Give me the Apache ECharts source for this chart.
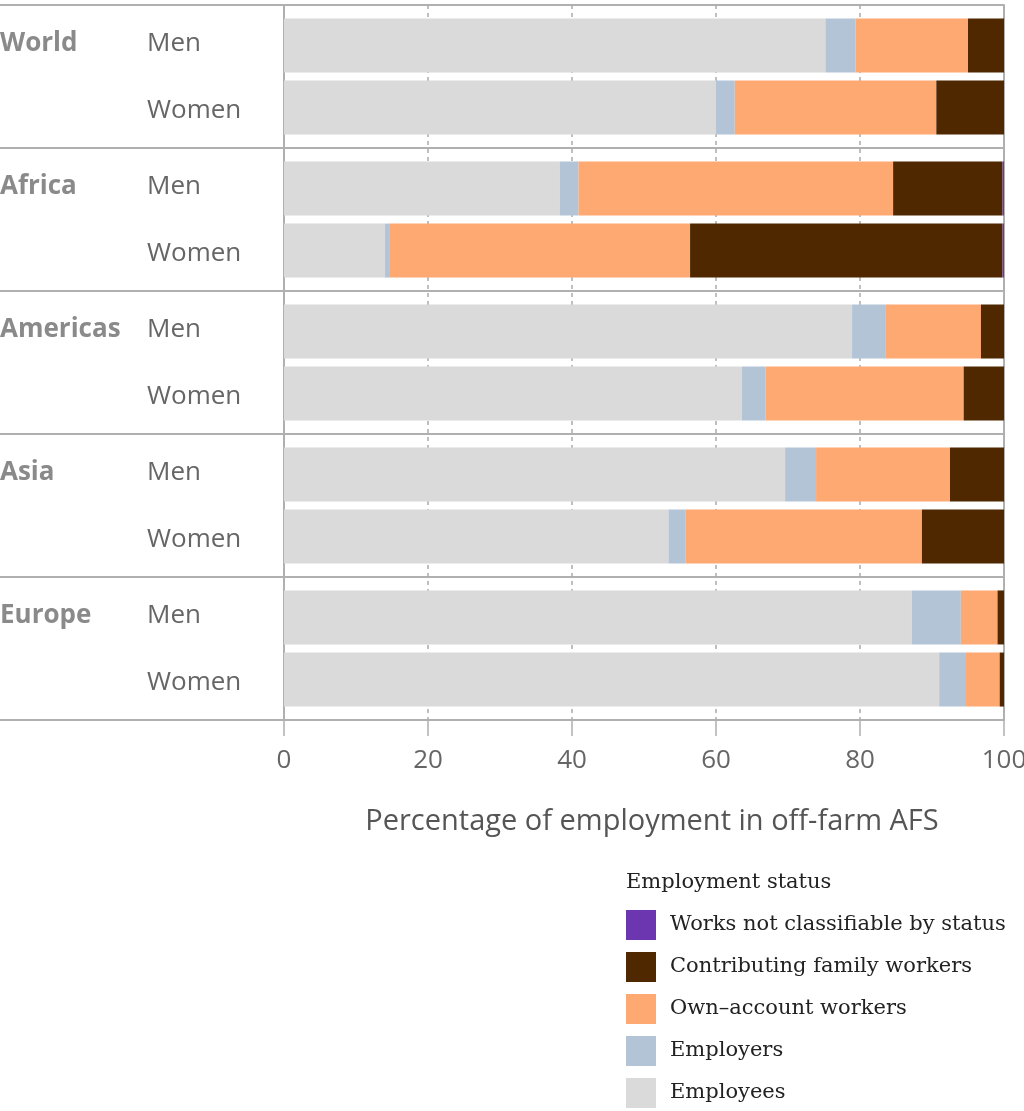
<!DOCTYPE html>
<html>
<head>
<meta charset="utf-8">
<script src="https://cdn.jsdelivr.net/npm/echarts@6/dist/echarts.min.js"></script>
<style>
html,body{margin:0;padding:0;background:#fff;}
#chart{width:1024px;height:1111px;}
</style>
</head>
<body>
<div id="chart"></div>
<script>
const regions = ['World', 'Africa', 'Americas', 'Asia', 'Europe'];
const genders = ['Men', 'Women'];
const xTicks = [0, 20, 40, 60, 80, 100];

const employeesMen     = [75.2, 38.3, 78.9, 69.6, 87.2];
const employeesWomen   = [60.0, 14.0, 63.6, 53.4, 91.0];
const employersMen     = [4.2, 2.6, 4.6, 4.3, 6.8];
const employersWomen   = [2.6, 0.6, 3.3, 2.4, 3.6];
const ownAccountMen    = [15.6, 43.7, 13.3, 18.6, 5.1];
const ownAccountWomen  = [28.0, 41.8, 27.5, 32.8, 4.8];
const familyMen        = [5.0, 15.2, 3.2, 7.5, 0.9];
const familyWomen      = [9.4, 43.4, 5.6, 11.4, 0.6];
const notClassMen      = [0, 0.2, 0, 0, 0];
const notClassWomen    = [0, 0.2, 0, 0, 0];

const statusNames = ['Employees', 'Employers', 'Own–account workers', 'Contributing family workers', 'Works not classifiable by status'];
const statusColors = ['#dadada', '#b3c4d6', '#fea872', '#4f2800', '#6c36b0'];
const legendOrder = ['Works not classifiable by status', 'Contributing family workers', 'Own–account workers', 'Employers', 'Employees'];

const menData = [employeesMen, employersMen, ownAccountMen, familyMen, notClassMen];
const womenData = [employeesWomen, employersWomen, ownAccountWomen, familyWomen, notClassWomen];

const series = [];
[[genders[0], menData], [genders[1], womenData]].forEach(([g, arr]) => {
  arr.forEach((d, i) => {
    series.push({
      name: statusNames[i],
      type: 'bar',
      stack: g,
      data: d,
      barWidth: 54,
      barGap: '15%',
      itemStyle: { color: statusColors[i] },
      emphasis: { disabled: true }
    });
  });
});

const chart = echarts.init(document.getElementById('chart'), null, { renderer: 'canvas' });
chart.setOption({
  animation: false,
  backgroundColor: '#fff',
  title: {
    text: 'Employment status',
    left: 626,
    top: 872,
    padding: 0,
    textStyle: { fontFamily: 'DejaVu Serif', fontSize: 21, fontWeight: 'normal', color: '#222' }
  },
  legend: {
    data: legendOrder,
    orient: 'vertical',
    left: 626,
    top: 910,
    padding: 0,
    itemWidth: 30,
    itemHeight: 30,
    itemGap: 12,
    icon: 'rect',
    selectedMode: false,
    textStyle: { fontFamily: 'DejaVu Serif', fontSize: 21, color: '#222', padding: [2, 0, 0, 9] }
  },
  grid: { left: 284, right: 20, top: 5, bottom: 391, containLabel: false, outerBoundsMode: 'none' },
  xAxis: {
    type: 'value',
    min: 0,
    max: 100,
    interval: 20,
    name: 'Percentage of employment in off-farm AFS',
    nameLocation: 'middle',
    nameGap: 87,
    nameTextStyle: { fontFamily: 'Open Sans', fontSize: 29, color: '#555', padding: [0, 0, 0, 16] },
    axisLine: { show: true, lineStyle: { color: '#b0b0b0', width: 2 } },
    axisTick: { show: true, length: 16, lineStyle: { color: '#b0b0b0', width: 1.5 } },
    axisLabel: {
      margin: 28,
      fontFamily: 'Open Sans',
      fontSize: 26,
      color: '#666',
      formatter: (v) => xTicks.includes(v) ? String(v) : ''
    },
    splitLine: { show: true, lineStyle: { color: '#aaaaaa', width: 1.5, type: [4, 4] } }
  },
  yAxis: [
    {
      type: 'category',
      data: regions,
      inverse: true,
      axisLine: { show: true, lineStyle: { color: '#b0b0b0', width: 2 } },
      axisTick: { show: true, length: 286, lineStyle: { color: '#b0b0b0', width: 2 } },
      splitLine: { show: true, lineStyle: { color: '#b0b0b0', width: 2 } },
      axisLabel: {
        margin: 284,
        align: 'left',
        padding: [2, 0, 0, 0],
        formatter: (v) => `{r|${v}}{g|${genders[0]}}\n{p| }{g|${genders[1]}}`,
        rich: {
          r: { fontFamily: 'Open Sans', fontWeight: 'bold', fontSize: 26, color: '#8a8a8a', width: 147, align: 'left', lineHeight: 67 },
          g: { fontFamily: 'Open Sans', fontSize: 26, color: '#666', lineHeight: 67 },
          p: { width: 147, lineHeight: 67, fontSize: 26 }
        }
      }
    },
    {
      type: 'category',
      data: regions,
      inverse: true,
      position: 'right',
      axisLine: { show: true, lineStyle: { color: '#b0b0b0', width: 2 } },
      axisTick: { show: false },
      axisLabel: { show: false },
      splitLine: { show: false }
    }
  ],
  series: series
});
</script>
</body>
</html>
